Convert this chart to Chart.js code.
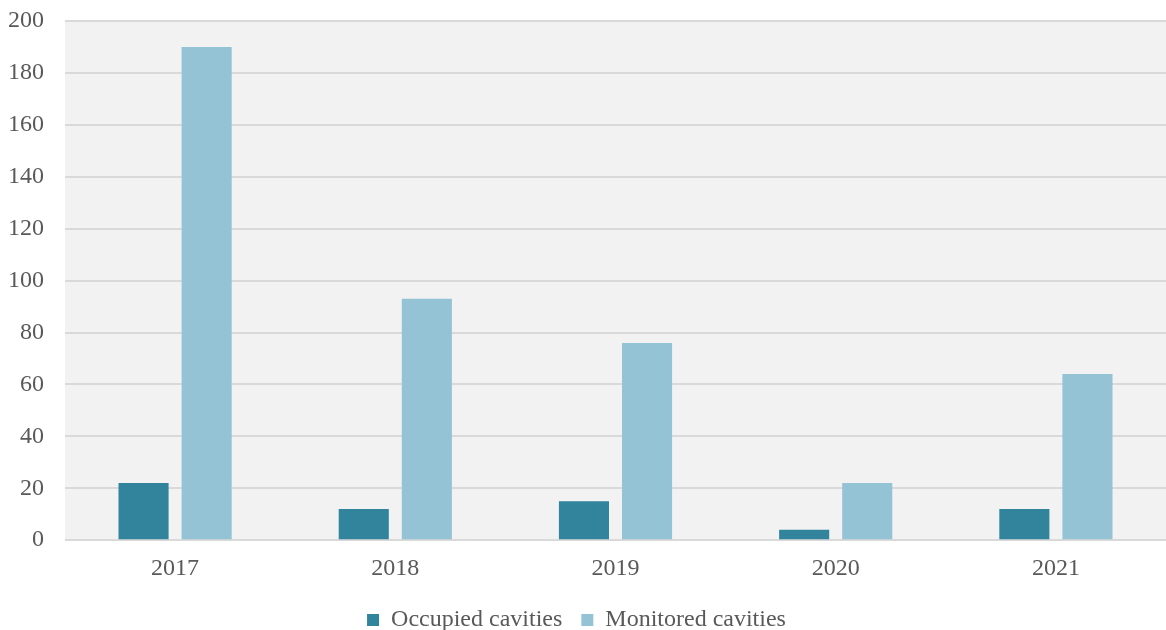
<!DOCTYPE html>
<html>
<head>
<meta charset="utf-8">
<script src="https://cdn.jsdelivr.net/npm/chart.js@4"></script>
<style>
  html, body { margin: 0; padding: 0; background: #fff; }
</style>
</head>
<body>
<canvas id="barChart" width="1166" height="630"></canvas>
<script>
const years = ["2017", "2018", "2019", "2020", "2021"];
const occupied = [22, 12, 15, 4, 12];
const monitored = [190, 93, 76, 22, 64];

// plot area background
const plotBg = {
  id: "plotBg",
  beforeDraw(chart) {
    const a = chart.chartArea, ctx = chart.ctx;
    ctx.save();
    ctx.fillStyle = "#f2f2f2";
    ctx.fillRect(a.left, a.top, a.right - a.left, a.bottom - a.top);
    ctx.restore();
  }
};

const serif = "'Liberation Serif', serif";

new Chart(document.getElementById("barChart"), {
  type: "bar",
  data: {
    labels: years,
    datasets: [{
      label: "Occupied cavities",
      data: occupied,
      backgroundColor: "#31849b"
    }, {
      label: "Monitored cavities",
      data: monitored,
      backgroundColor: "#93c3d4"
    }]
  },
  options: {
    responsive: false,
    animation: false,
    devicePixelRatio: 1,
    categoryPercentage: 0.573,
    barPercentage: 0.794,
    layout: { padding: { top: 0, left: -13, right: 0, bottom: -12 } },
    plugins: {
      legend: {
        position: "bottom",
        labels: {
          color: "#595959",
          font: { family: serif, size: 24 },
          boxWidth: 12,
          boxHeight: 12,
          padding: 19
        }
      },
      tooltip: { enabled: false }
    },
    scales: {
      x: {
        grid: { display: false },
        border: { display: false },
        ticks: {
          color: "#595959",
          font: { family: serif, size: 24 },
          padding: 6
        }
      },
      y: {
        min: 0,
        max: 200,
        grid: { color: "#d9d9d9", lineWidth: 2, drawTicks: false },
        border: { display: false },
        ticks: {
          stepSize: 20,
          color: "#595959",
          font: { family: serif, size: 24, lineHeight: 0.01 },
          padding: 21
        }
      }
    }
  },
  plugins: [plotBg]
});
</script>
</body>
</html>
